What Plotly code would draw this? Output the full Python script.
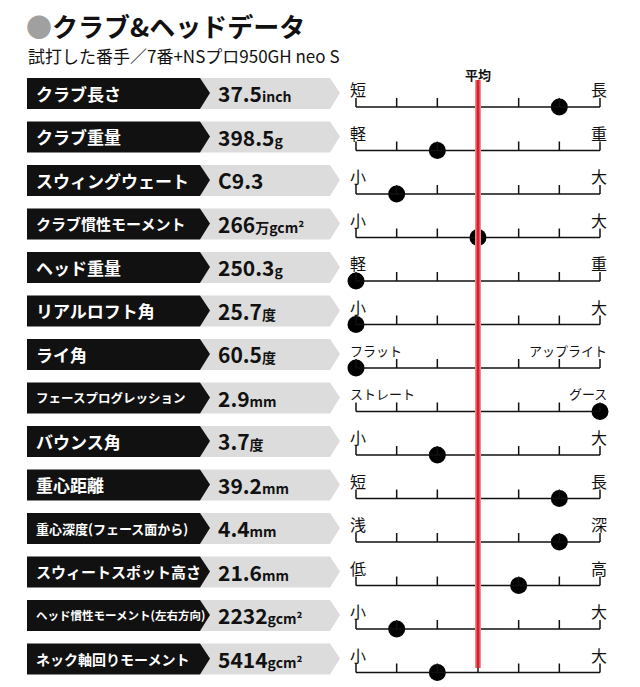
import plotly.graph_objects as go

# ── data ────────────────────────────────────────────────────────────────
labels = ["クラブ長さ", "クラブ重量", "スウィングウェート", "クラブ慣性モーメント",
          "ヘッド重量", "リアルロフト角", "ライ角", "フェースプログレッション",
          "バウンス角", "重心距離", "重心深度(フェース面から)", "スウィートスポット高さ",
          "ヘッド慣性モーメント(左右方向)", "ネック軸回りモーメント"]
values = ["37.5", "398.5", "C9.3", "266", "250.3", "25.7", "60.5", "2.9",
          "3.7", "39.2", "4.4", "21.6", "2232", "5414"]
units = ["inch", "g", "", "万gcm²", "g", "度", "度", "mm", "度", "mm", "mm", "mm", "gcm²", "gcm²"]
left_ends = ["短", "軽", "小", "小", "軽", "小", "フラット", "ストレート", "小", "短", "浅", "低", "小", "小"]
right_ends = ["長", "重", "大", "大", "重", "大", "アップライト", "グース", "大", "長", "深", "高", "大", "大"]
# position on the 7-tick scale (0 = left end, 3 = average, 6 = right end)
scores = [5, 2, 1, 3, 0, 0, 0, 6, 2, 5, 5, 4, 1, 2]

# ── layout in pixel space (page has an 8px body margin) ─────────────────
FONT = "Noto Sans CJK JP"
OFF = 8
X0, X1 = 356, 600
STEP = (X1 - X0) / 6
ROW0, DY = 93, 43.5
label_sizes = [17, 17, 17, 15, 17, 17, 17, 12.5, 17, 17, 13, 15, 11.5, 14]

def sx(v):
    return X0 + v * STEP

shapes, annots = [], []
for i, lab in enumerate(labels):
    yc = ROW0 + i * DY
    top, bot = yc - 15, yc + 16
    shapes.append(dict(type="path", fillcolor="#dcdcdc", line_width=0,
                       path=f"M 200 {top} L 330 {top} L 340 {yc} L 330 {bot} L 200 {bot} Z"))
    shapes.append(dict(type="path", fillcolor="#111", line_width=0,
                       path=f"M 27 {top} L 200 {top} L 210 {yc} L 200 {bot} L 27 {bot} Z"))
    annots.append(dict(x=34, y=yc, text=f"<b>{lab}</b>", xanchor="left", showarrow=False,
                       font=dict(family=FONT, size=label_sizes[i], color="white")))
    unit = f"<span style='font-size:14px'>{units[i]}</span>" if units[i] else ""
    annots.append(dict(x=216, y=yc, text=f"<b>{values[i]}{unit}</b>", xanchor="left",
                       showarrow=False, font=dict(family=FONT, size=21, color="#111")))
    ya = yc + 14
    shapes.append(dict(type="line", x0=X0, x1=X1, y0=ya, y1=ya, line=dict(color="#111", width=1.5)))
    for k in range(7):
        shapes.append(dict(type="line", x0=sx(k), x1=sx(k), y0=ya - 9, y1=ya,
                           line=dict(color="#111", width=1.5)))
    small = len(left_ends[i]) > 1
    annots.append(dict(x=348, y=ya - 18, text=left_ends[i], xanchor="left", showarrow=False,
                       font=dict(family=FONT, size=13 if small else 16, color="#111")))
    annots.append(dict(x=609, y=ya - 18, text=right_ends[i], xanchor="right", showarrow=False,
                       font=dict(family=FONT, size=13 if small else 16, color="#111")))

# average line
shapes.append(dict(type="line", x0=sx(3), x1=sx(3), y0=80, y1=668,
                   line=dict(color="#f08a90", width=6)))
shapes.append(dict(type="line", x0=sx(3), x1=sx(3), y0=80, y1=668,
                   line=dict(color="#d8202c", width=3)))
annots.append(dict(x=sx(3), y=74, text="<b>平均</b>", showarrow=False,
                   font=dict(family=FONT, size=13, color="#111")))

annots.append(dict(x=24, y=25, text="<span style='color:#a0a0a0'>●</span><b>クラブ&ヘッドデータ</b>",
                   xanchor="left", showarrow=False, font=dict(family=FONT, size=26, color="#111")))
annots.append(dict(x=26, y=55, text="試打した番手／7番+NSプロ950GH neo S",
                   xanchor="left", showarrow=False, font=dict(family=FONT, size=17, color="#111")))

fig = go.Figure(go.Scatter(
    x=[sx(s) for s in scores],
    y=[ROW0 + i * DY + 14 for i in range(len(scores))],
    mode="markers", marker=dict(size=17, color="#000"), hoverinfo="skip"))

fig.update_layout(
    width=640, height=687, margin=dict(l=0, r=0, t=0, b=0),
    paper_bgcolor="white", plot_bgcolor="white", showlegend=False,
    xaxis=dict(range=[OFF, 640 + OFF], visible=False, fixedrange=True),
    yaxis=dict(range=[687 + OFF, OFF], visible=False, fixedrange=True),
    shapes=shapes, annotations=annots)

fig.write_html("out.html")
